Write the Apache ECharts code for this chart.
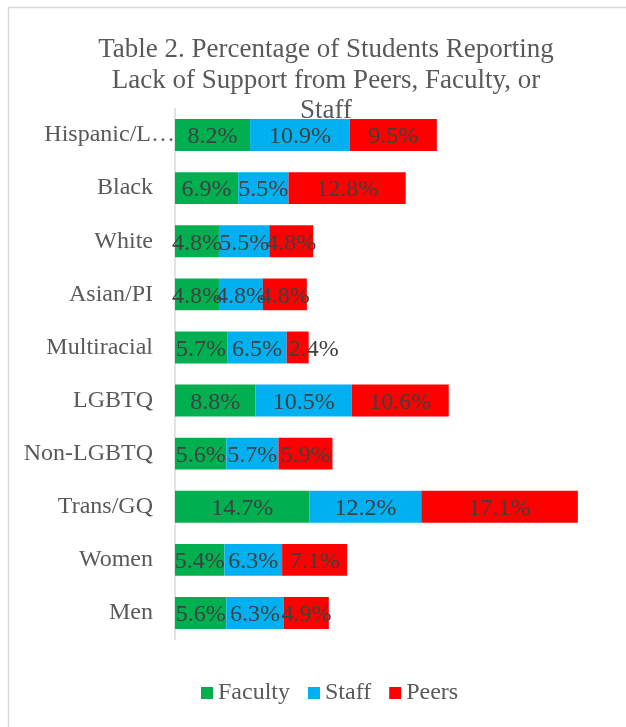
<!DOCTYPE html>
<html>
<head>
<meta charset="utf-8">
<script src="https://cdn.jsdelivr.net/npm/echarts@6/dist/echarts.min.js"></script>
<style>html,body{margin:0;padding:0;background:#fff;}#c{width:626px;height:727px;}</style>
</head>
<body>
<div id="c"></div>
<script>
const categories = ['Hispanic/Latino', 'Black', 'White', 'Asian/PI', 'Multiracial', 'LGBTQ', 'Non-LGBTQ', 'Trans/GQ', 'Women', 'Men'];
const faculty = [8.2, 6.9, 4.8, 4.8, 5.7, 8.8, 5.6, 14.7, 5.4, 5.6];
const staff   = [10.9, 5.5, 5.5, 4.8, 6.5, 10.5, 5.7, 12.2, 6.3, 6.3];
const peers   = [9.5, 12.8, 4.8, 4.8, 2.4, 10.6, 5.9, 17.1, 7.1, 4.9];
const seriesNames = ['Faculty', 'Staff', 'Peers'];
const colors = ['#00B050', '#00B0F0', '#FF0000'];

const FONT = "'Liberation Serif', 'Times New Roman', serif";
const chart = echarts.init(document.getElementById('c'));

function mk(name, data, color, shifted) {
  return {
    name: name, type: 'bar', stack: 'total',
    data: data.map(function (v, i) {
      return (shifted && shifted[i]) ? { value: v, label: { offset: [shifted[i], 2] } } : v;
    }),
    barCategoryGap: '40%',
    itemStyle: { color: color },
    label: {
      show: true, position: 'inside', formatter: '{c}%',
      fontFamily: FONT, fontSize: 24, color: '#404040', offset: [0, 2]
    },
    emphasis: { disabled: true }
  };
}

chart.setOption({
  animation: false,
  color: colors,
  title: {
    text: 'Table 2. Percentage of Students Reporting\nLack of Support from Peers, Faculty, or\nStaff',
    left: 321, top: 30, textAlign: 'center',
    textStyle: { fontFamily: FONT, fontSize: 27, fontWeight: 'normal', color: '#595959', lineHeight: 30.5 }
  },
  graphic: [{
    type: 'rect', silent: true, z: -10,
    shape: { x: 8.5, y: 7.5, width: 800, height: 900 },
    style: { fill: 'none', stroke: '#d9d9d9', lineWidth: 1.5 }
  }],
  legend: {
    data: seriesNames, left: 196, top: 676,
    icon: 'rect', itemWidth: 12, itemHeight: 12, itemGap: 18,
    textStyle: { fontFamily: FONT, fontSize: 24, color: '#595959' }
  },
  grid: { left: 175, top: 108.5, width: 412, height: 531, containLabel: false },
  xAxis: {
    type: 'value', min: 0, max: 45,
    axisLine: { show: false }, axisTick: { show: false },
    axisLabel: { show: false }, splitLine: { show: false }
  },
  yAxis: {
    type: 'category', data: categories, inverse: true,
    axisLine: { show: true, lineStyle: { color: '#d9d9d9', width: 1.5 } },
    axisTick: { show: false },
    axisLabel: {
      margin: 0,
      formatter: function (v) {
        return v.length > 11 ? '{t|' + v.slice(0, 10) + '…}' : '{t|' + v + '}{s| }';
      },
      rich: {
        t: { fontFamily: FONT, fontSize: 24, color: '#595959' },
        s: { width: 22, fontSize: 24 }
      }
    }
  },
  series: [
    mk(seriesNames[0], faculty, colors[0]),
    mk(seriesNames[1], staff, colors[1]),
    mk(seriesNames[2], peers, colors[2], { 4: 16 })
  ]
});
</script>
</body>
</html>
